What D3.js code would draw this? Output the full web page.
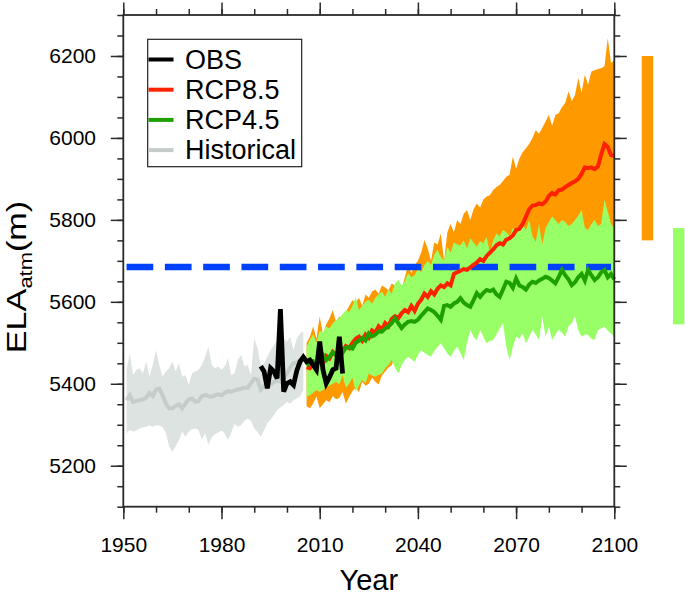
<!DOCTYPE html>
<html>
<head>
<meta charset="utf-8">
<script src="https://cdn.jsdelivr.net/npm/d3@7"></script>
<style>
  body { margin: 0; background: #fff; }
  svg { display: block; font-family: "Liberation Sans", Arial, Helvetica, sans-serif; }
</style>
</head>
<body>
<script>
// ---- data ----
const histStart = 1951;   // historical runs 1951-2005
const histMean = [5360,5372,5356,5358,5360,5362,5366,5378,5370,5386,
  5388,5372,5352,5340,5340,5346,5350,5340,5352,5362,
  5364,5356,5358,5370,5373,5370,5368,5372,5374,5372,
  5378,5382,5380,5384,5386,5388,5390,5390,5402,5412,
  5410,5386,5395,5392,5398,5404,5408,5405,5415,5425,
  5440,5450,5452,5458,5455];
const histHigh = [5434,5474,5421,5434,5438,5426,5454,5417,5446,5482,
  5446,5417,5430,5438,5454,5430,5450,5417,5421,5397,
  5426,5430,5434,5446,5466,5491,5446,5438,5442,5434,
  5442,5462,5421,5426,5458,5470,5442,5446,5421,5511,
  5487,5446,5450,5466,5482,5494,5507,5491,5511,5503,
  5515,5482,5511,5523,5527];
const histLow = [5279,5287,5283,5286,5291,5294,5295,5299,5295,5299,
  5298,5294,5281,5247,5234,5247,5263,5283,5271,5283,
  5289,5291,5287,5263,5279,5251,5269,5277,5281,5286,
  5279,5263,5282,5302,5295,5299,5310,5315,5310,5291,
  5283,5271,5286,5304,5313,5324,5336,5342,5348,5356,
  5352,5360,5364,5369,5385];

const obsStart = 1992;    // observations 1992-2017
const obsValues = [5443,5430,5389,5438,5430,5413,5582,5381,5401,5405,
  5397,5432,5454,5465,5454,5458,5446,5434,5503,5434,
  5401,5416,5434,5438,5515,5425];

const rcpStart = 2006;    // scenarios 2006-2100
const rcp85Mean = [5440,5438,5452,5445,5460,5450,5468,5462,5478,5470,
  5485,5480,5492,5487,5500,5510,5515,5505,5520,5512,
  5530,5525,5540,5532,5548,5540,5558,5565,5560,5572,
  5580,5575,5590,5578,5595,5605,5620,5612,5626,5618,
  5632,5640,5636,5645,5640,5668,5672,5676,5680,5678,
  5684,5690,5696,5704,5700,5712,5720,5728,5738,5743,
  5740,5752,5755,5762,5775,5778,5790,5808,5826,5835,
  5836,5840,5838,5845,5858,5866,5862,5872,5874,5880,
  5885,5890,5894,5900,5912,5928,5926,5928,5924,5930,
  5960,5985,5978,5958,5956];
const rcp85High = [5500,5515,5540,5510,5564,5520,5545,5560,5580,5550,
  5565,5548,5575,5590,5604,5598,5610,5590,5618,5610,
  5625,5630,5620,5640,5635,5628,5645,5640,5653,5630,
  5660,5690,5670,5690,5700,5720,5751,5730,5700,5745,
  5740,5767,5700,5770,5790,5770,5800,5790,5815,5824,
  5800,5826,5840,5830,5850,5857,5860,5873,5880,5885,
  5895,5905,5910,5954,5925,5950,5965,5975,5985,6000,
  6019,6010,6025,6040,6056,6030,6056,6060,6075,6085,
  6113,6090,6105,6146,6110,6154,6130,6162,6165,6168,
  6170,6175,6243,6182,6190];
const rcp85Low = [5345,5340,5352,5369,5340,5350,5360,5355,5370,5362,
  5365,5380,5352,5368,5382,5390,5380,5405,5395,5400,
  5415,5405,5398,5420,5430,5440,5445,5466,5470,5468,
  5478,5487,5490,5496,5502,5506,5514,5518,5524,5530,
  5534,5541,5546,5549,5556,5561,5565,5571,5576,5580,
  5586,5590,5595,5601,5604,5611,5616,5619,5627,5630,
  5637,5640,5646,5649,5656,5661,5663,5669,5672,5677,
  5680,5686,5688,5691,5697,5700,5705,5707,5711,5713,
  5715,5719,5720,5724,5725,5728,5731,5732,5736,5738,
  5741,5742,5746,5748,5750];

const rcp45Mean = [5445,5450,5455,5448,5462,5470,5458,5466,5476,5470,
  5484,5476,5488,5490,5486,5500,5505,5512,5506,5523,
  5516,5520,5528,5527,5535,5540,5548,5560,5548,5536,
  5545,5551,5553,5551,5556,5566,5575,5584,5580,5575,
  5566,5556,5590,5592,5588,5596,5600,5609,5598,5592,
  5588,5604,5621,5612,5622,5629,5626,5630,5618,5612,
  5630,5649,5646,5634,5657,5640,5636,5630,5642,5649,
  5646,5652,5656,5661,5658,5652,5645,5660,5678,5665,
  5655,5641,5648,5660,5668,5652,5678,5665,5653,5660,
  5672,5678,5660,5668,5655];
const rcp45High = [5490,5507,5520,5500,5530,5525,5540,5535,5548,5555,
  5560,5570,5580,5575,5590,5612,5580,5590,5600,5605,
  5595,5610,5618,5625,5612,5630,5620,5645,5653,5640,
  5650,5670,5660,5665,5680,5672,5690,5700,5690,5715,
  5727,5710,5700,5735,5720,5745,5740,5738,5750,5730,
  5755,5745,5735,5748,5743,5759,5720,5750,5767,5760,
  5775,5770,5760,5780,5770,5783,5790,5775,5800,5760,
  5747,5790,5740,5780,5795,5808,5800,5790,5800,5795,
  5785,5790,5800,5810,5824,5780,5775,5790,5800,5785,
  5790,5849,5820,5790,5780];
const rcp45Low = [5368,5372,5378,5385,5380,5385,5392,5396,5400,5405,
  5398,5420,5390,5400,5415,5381,5396,5409,5402,5425,
  5420,5417,5422,5425,5438,5446,5458,5440,5425,5445,
  5458,5466,5460,5454,5470,5482,5476,5470,5466,5480,
  5490,5499,5486,5474,5466,5480,5491,5475,5458,5500,
  5531,5515,5507,5531,5515,5499,5505,5507,5520,5535,
  5548,5491,5458,5490,5515,5510,5523,5499,5515,5531,
  5520,5507,5564,5515,5539,5507,5520,5531,5525,5515,
  5540,5548,5564,5531,5515,5520,5519,5510,5507,5531,
  5535,5539,5530,5523,5515];

const thresholdELA = 5685;
const thresholdYears = [1951, 2099];
const range2100 = [[5750, 6200], [5545, 5780]];   // RCP8.5, RCP4.5 bars at right

const xTicks = [1950, 1980, 2010, 2040, 2070, 2100];
const yTicks = [5200, 5400, 5600, 5800, 6000, 6200];
const legendNames = ["OBS", "RCP8.5", "RCP4.5", "Historical"];

// ---- drawing ----
const W = 685, H = 596;
const plotL = 123.3, plotR = 614.3, plotT = 15, plotB = 506.7;

const col = {
  obs: "#000000", r85: "#ff9900", r85line: "#ff2200",
  r45: "#99ff66", r45line: "#1ea000",
  hist: "#dde3e0", histline: "#c5cdca", blue: "#0041ff"
};

const svg = d3.select("body").append("svg")
  .attr("width", W).attr("height", H);

const x = d3.scaleLinear().domain([1950, 2100]).range([plotL, plotR]);
const y = d3.scaleLinear().domain([5100, 6300]).range([plotB, plotT]);

function series(start, vals) {
  return vals.map((v, i) => ({ year: start + i, v }));
}
function bandData(start, lo, hi) {
  return lo.map((v, i) => ({ year: start + i, lo: v, hi: hi[i] }));
}

const area = d3.area().x(d => x(d.year)).y0(d => y(d.lo)).y1(d => y(d.hi));
const line = d3.line().x(d => x(d.year)).y(d => y(d.v));

const plot = svg.append("g");

// historical spread + mean
plot.append("path").datum(bandData(histStart, histLow, histHigh))
  .attr("d", area).attr("fill", col.hist);
plot.append("path").datum(series(histStart, histMean))
  .attr("d", line).attr("fill", "none")
  .attr("stroke", col.histline).attr("stroke-width", 4);

// scenario spreads
plot.append("path").datum(bandData(rcpStart, rcp85Low, rcp85High))
  .attr("d", area).attr("fill", col.r85);
plot.append("path").datum(bandData(rcpStart, rcp45Low, rcp45High))
  .attr("d", area).attr("fill", col.r45);

// threshold line
plot.append("line")
  .attr("x1", x(thresholdYears[0])).attr("x2", x(thresholdYears[1]))
  .attr("y1", y(thresholdELA)).attr("y2", y(thresholdELA))
  .attr("stroke", col.blue).attr("stroke-width", 6.5)
  .attr("stroke-dasharray", "26.7 11.6");

// scenario means
plot.append("path").datum(series(rcpStart, rcp85Mean))
  .attr("d", line).attr("fill", "none")
  .attr("stroke", col.r85line).attr("stroke-width", 4);
plot.append("path").datum(series(rcpStart, rcp45Mean))
  .attr("d", line).attr("fill", "none")
  .attr("stroke", col.r45line).attr("stroke-width", 4);

// observations
plot.append("path").datum(series(obsStart, obsValues))
  .attr("d", line).attr("fill", "none")
  .attr("stroke", col.obs).attr("stroke-width", 4.8);

// range bars at the right edge
svg.selectAll("rect.bar").data(range2100).enter().append("rect")
  .attr("class", "bar")
  .attr("x", (d, i) => i === 0 ? 641.7 : 673)
  .attr("width", 11.5)
  .attr("y", d => y(d[1]))
  .attr("height", d => y(d[0]) - y(d[1]))
  .attr("fill", (d, i) => i === 0 ? col.r85 : col.r45);

// ---- axes: major + minor ticks on all four sides ----
const minorX = d3.range(1950, 2101, 10);
const minorY = d3.range(5100, 6301, 50);
const axStroke = "#2a2a2a";

function styleAxis(g) {
  g.select(".domain").remove();
  g.selectAll("line").attr("stroke", axStroke).attr("stroke-width", 1.5);
  g.selectAll("text").attr("fill", "#000").attr("font-size", 21)
    .attr("font-family", "Liberation Sans, Arial, sans-serif");
}

svg.append("g").attr("transform", `translate(0,${plotB})`)
  .call(d3.axisBottom(x).tickValues(minorX).tickSize(6).tickFormat(""))
  .call(styleAxis);
svg.append("g").attr("transform", `translate(0,${plotB})`)
  .call(d3.axisBottom(x).tickValues(xTicks).tickSize(12.5).tickPadding(17.6).tickFormat(d3.format("d")))
  .call(styleAxis);
svg.append("g").attr("transform", `translate(0,${plotT})`)
  .call(d3.axisTop(x).tickValues(minorX).tickSize(6).tickFormat(""))
  .call(styleAxis);
svg.append("g").attr("transform", `translate(0,${plotT})`)
  .call(d3.axisTop(x).tickValues(xTicks).tickSize(12.5).tickFormat(""))
  .call(styleAxis);

svg.append("g").attr("transform", `translate(${plotL},0)`)
  .call(d3.axisLeft(y).tickValues(minorY).tickSize(6).tickFormat(""))
  .call(styleAxis);
svg.append("g").attr("transform", `translate(${plotL},0)`)
  .call(d3.axisLeft(y).tickValues(yTicks).tickSize(12.5).tickPadding(14.8).tickFormat(d3.format("d")))
  .call(styleAxis);
svg.append("g").attr("transform", `translate(${plotR},0)`)
  .call(d3.axisRight(y).tickValues(minorY).tickSize(6).tickFormat(""))
  .call(styleAxis);
svg.append("g").attr("transform", `translate(${plotR},0)`)
  .call(d3.axisRight(y).tickValues(yTicks).tickSize(12.5).tickFormat(""))
  .call(styleAxis);

// frame
svg.append("rect")
  .attr("x", plotL).attr("y", plotT)
  .attr("width", plotR - plotL).attr("height", plotB - plotT)
  .attr("fill", "none").attr("stroke", axStroke).attr("stroke-width", 1.8);

// axis titles
svg.append("text")
  .attr("x", (plotL + plotR) / 2).attr("y", 590)
  .attr("text-anchor", "middle").attr("font-size", 29)
  .text("Year");

// y title: the original font is wider than Liberation Sans, so stretch along the text
const yl = svg.append("text")
  .attr("transform", "translate(26,277) rotate(-90) scale(1.22,1)")
  .attr("text-anchor", "middle").attr("font-size", 28);
yl.append("tspan").text("ELA");
yl.append("tspan").attr("font-size", 18).attr("dy", 6).text("atm");
yl.append("tspan").attr("dy", -6).text("(m)");

// legend
const legColors = [col.obs, col.r85line, col.r45line, col.histline];
const leg = svg.append("g");
leg.append("rect")
  .attr("x", 147.7).attr("y", 39.3).attr("width", 154).attr("height", 127.4)
  .attr("fill", "#fff").attr("stroke", "#222").attr("stroke-width", 1.2);
const rows = leg.selectAll("g.row").data(legendNames).enter().append("g")
  .attr("class", "row")
  .attr("transform", (d, i) => `translate(0,${59.5 + i * 30.2})`);
rows.append("line")
  .attr("x1", 148.5).attr("x2", 173.5)
  .attr("stroke", (d, i) => legColors[i]).attr("stroke-width", 4);
rows.append("text")
  .attr("x", 185).attr("y", 9)
  .attr("font-size", 27)
  .text(d => d);
</script>
</body>
</html>
